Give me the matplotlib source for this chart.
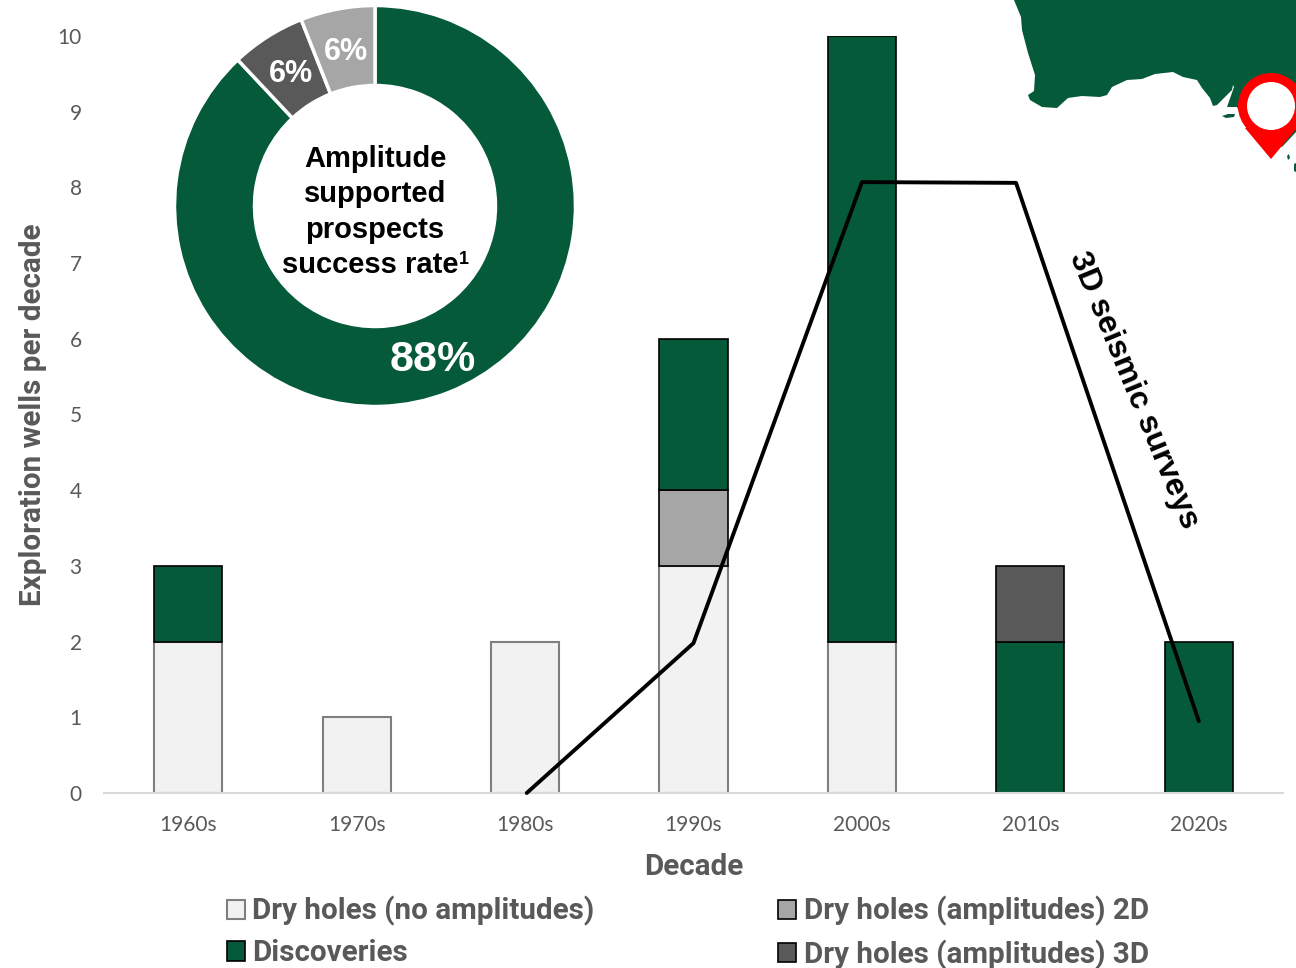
import numpy as np
import matplotlib
matplotlib.use('Agg')
import matplotlib.pyplot as plt
from matplotlib.patches import Polygon, Circle

W, H = 1296, 968

decades = ['1960s', '1970s', '1980s', '1990s', '2000s', '2010s', '2020s']
dry_none = [2, 1, 2, 3, 2, 0, 0]
dry_2d = [0, 0, 0, 1, 0, 0, 0]
discoveries = [1, 0, 0, 2, 8, 2, 2]
dry_3d = [0, 0, 0, 0, 0, 1, 0]

# surveys line, the 2010s point sits left of its bar in the original
survey_x = [2.01, 3, 4, 4.915, 6]
survey_y = [0, 1.98, 8.07, 8.06, 0.95]

donut_vals = [88, 6, 6]
donut_labels = ['88%', '6%', '6%']

GREEN = '#055a3a'
LIGHT = '#f2f2f2'
MID = '#a6a6a6'
DARK = '#595959'
TXT = '#595959'

# map outline in image pixels
coast = [(1014, 0), (1021, 17), (1022, 30), (1028, 53), (1035, 75), (1034, 91), (1028, 95),
         (1030, 100), (1042, 107), (1057, 108), (1068, 98), (1082, 96), (1100, 97), (1107, 95),
         (1112, 87), (1127, 80), (1142, 79), (1155, 74), (1173, 72), (1183, 77), (1197, 80),
         (1202, 88), (1210, 98), (1213, 106), (1217, 105), (1232, 90), (1233, 85), (1234, 87),
         (1227, 107), (1237, 107), (1245, 125), (1282, 147), (1296, 132), (1296, 0)]
kangaroo = [(1222, 116), (1228, 114), (1235, 114), (1234, 117), (1226, 118)]
islet_a = [(1287, 156), (1289, 154), (1290, 158), (1288, 160)]
islet_b = [(1294, 164), (1296, 163), (1296, 172), (1294, 171)]
pin_tip = [(1245, 128), (1271, 159), (1297, 128)]

plt.rcParams['font.family'] = ['Lato', 'DejaVu Sans']
BOLD = 'Roboto'

fig = plt.figure(figsize=(W / 100, H / 100), dpi=100)
ax = fig.add_axes([104 / W, 1 - 793 / H, (1283 - 104) / W, (793 - 36) / H])
ax.patch.set_alpha(0)

x = np.arange(len(decades))
bw = 0.404
none_a = np.array(dry_none)
d2_a = np.array(dry_2d)
disc_a = np.array(discoveries)
d3_a = np.array(dry_3d)


def stack(vals, base, col, edge, lw):
    # skip empty segments so no stray edge lines show up
    m = vals > 0
    return ax.bar(x[m], vals[m], bw, bottom=base[m], color=col, edgecolor=edge, linewidth=lw)


h1 = stack(none_a, 0 * none_a, LIGHT, '#7f7f7f', 1.5)
h2 = stack(d2_a, none_a, MID, 'black', 1.2)
h3 = stack(disc_a, none_a + d2_a, GREEN, 'black', 1.2)
h4 = stack(d3_a, none_a + d2_a + disc_a, DARK, 'black', 1.2)
ax.plot(survey_x, survey_y, color='black', lw=2.8, solid_capstyle='round', clip_on=False, zorder=5)

ax.set_xlim(-0.5, 6.5)
ax.set_ylim(0, 10)
ax.set_xticks(x)
ax.set_xticklabels(decades)
ax.set_yticks(range(11))
ax.tick_params(axis='both', length=0, labelsize=15, labelcolor=TXT)
ax.tick_params(axis='x', pad=16)
ax.tick_params(axis='y', pad=16)
for s in ['top', 'right', 'left']:
    ax.spines[s].set_visible(False)
ax.spines['bottom'].set_color('#d9d9d9')
ax.spines['bottom'].set_linewidth(1.5)
ax.set_xlabel('Decade', fontsize=21.3, fontweight='bold', family=BOLD, color=TXT, labelpad=13)
fig.text(33 / W, 1 - 415 / H, 'Exploration wells per decade', rotation=90, ha='center', va='center',
         fontsize=21.3, fontweight='bold', family=BOLD, color=TXT)

fig.legend([h1, h3, h2, h4],
           ['Dry holes (no amplitudes)', 'Discoveries', 'Dry holes (amplitudes) 2D', 'Dry holes (amplitudes) 3D'],
           ncol=2, frameon=False, prop={'weight': 'bold', 'size': 21.3, 'family': BOLD}, labelcolor=TXT,
           loc='lower left', bbox_to_anchor=(206 / W, -0.023), handlelength=0.62, handleheight=0.62,
           handletextpad=0.25, columnspacing=6.2, labelspacing=0.44, borderpad=0.2)

# pixel overlay for the map and pin
ov = fig.add_axes([0, 0, 1, 1], zorder=-1)
ov.set_xlim(0, W)
ov.set_ylim(H, 0)
ov.axis('off')
for shape in [coast, kangaroo, islet_a, islet_b]:
    ov.add_patch(Polygon(shape, closed=True, color=GREEN, lw=0))
ov2 = fig.add_axes([0, 0, 1, 1], zorder=6)
ov2.set_xlim(0, W)
ov2.set_ylim(H, 0)
ov2.axis('off')
ov2.add_patch(Polygon(pin_tip, closed=True, color='#ff0000', lw=0))
ov2.add_patch(Circle((1271, 106), 33, color='#ff0000', lw=0))
ov2.add_patch(Circle((1271, 106), 24, color='white', lw=0))
ov2.text(1134, 390, '3D seismic surveys', rotation=-67.5, ha='center', va='center', rotation_mode='anchor',
         fontsize=23, fontweight='bold', family='Liberation Sans', color='black')

# donut
R = 200.5
dax = fig.add_axes([(375 - R) / W, 1 - (206 + R) / H, 2 * R / W, 2 * R / H], zorder=4)
dax.pie(donut_vals, colors=[GREEN, DARK, MID], startangle=90, counterclock=False, radius=1,
        wedgeprops=dict(width=1 - 120.5 / R, edgecolor='white', linewidth=2.5))
dax.set_xlim(-1, 1)
dax.set_ylim(-1, 1)
dax.set_aspect('equal')
pos = [(433, 360, 31), (291, 74, 22), (346, 52, 22)]
for lab, (px, py, fs) in zip(donut_labels, pos):
    ov2.text(px, py, lab, color='white', fontsize=fs, fontweight='bold', family='Liberation Sans', ha='center', va='center')
centre_lines = ['Amplitude', 'supported', 'prospects', 'success rate']
centre_y = [159, 194, 230, 265]
for line, py in zip(centre_lines, centre_y):
    ov2.text(370 if line == 'success rate' else 375, py, line, color='black', fontsize=21, fontweight='bold',
             family='Liberation Sans', ha='center', va='center')
ov2.text(459, 259, '1', color='black', fontsize=13, fontweight='bold', family='Liberation Sans', ha='left', va='center')

fig.savefig('out.png', dpi=100)
